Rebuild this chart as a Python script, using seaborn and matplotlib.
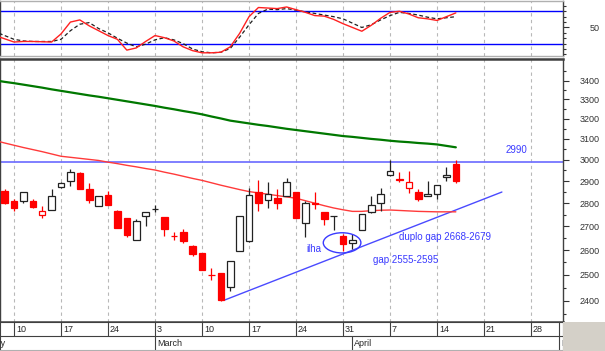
import numpy as np
import pandas as pd
import matplotlib
matplotlib.use('Agg')
import matplotlib.pyplot as plt
import seaborn as sns
from matplotlib.patches import Ellipse, Rectangle
from matplotlib.ticker import FixedLocator, FixedFormatter, NullFormatter

sns.set_style('white')
plt.rcParams['font.family'] = ['Liberation Sans', 'DejaVu Sans']

#trading day index, Feb 10 2003 = 0 (lines start one day earlier than candles)
line_days = np.arange(-2, 48)
candle_days = np.arange(-1, 48)

#daily candles Feb 7 .. Apr 16
opens = [2855, 2808, 2808, 2810, 2750, 2771, 2874, 2899, 2938, 2862,
         2786, 2836, 2764, 2734, 2643, 2743, 2773, 2738, 2658, 2675,
         2618, 2588, 2501, 2507, 2452, 2595, 2639, 2852, 2815, 2821,
         2830, 2848, 2714, 2799, 2763, 2742, 2660, 2628, 2684, 2763,
         2803, 2927, 2908, 2870, 2850, 2830, 2840, 2920, 2977]
highs = [2862, 2818, 2852, 2818, 2788, 2862, 2895, 2957, 2940, 2889,
         2832, 2855, 2771, 2734, 2731, 2763, 2791, 2738, 2675, 2686,
         2621, 2588, 2528, 2507, 2555, 2745, 2870, 2904, 2895, 2862,
         2915, 2848, 2810, 2850, 2763, 2743, 2668, 2665, 2753, 2832,
         2870, 2997, 2941, 2946, 2865, 2899, 2884, 2966, 2997]
lows = [2796, 2767, 2803, 2777, 2736, 2771, 2870, 2877, 2865, 2800,
        2786, 2793, 2692, 2654, 2643, 2700, 2760, 2658, 2643, 2628,
        2576, 2518, 2478, 2400, 2435, 2595, 2632, 2767, 2777, 2774,
        2830, 2734, 2654, 2774, 2705, 2683, 2597, 2605, 2682, 2757,
        2767, 2922, 2895, 2845, 2810, 2830, 2818, 2899, 2892]
closes = [2803, 2779, 2848, 2782, 2764, 2833, 2889, 2941, 2865, 2815,
          2832, 2793, 2692, 2663, 2721, 2760, 2775, 2686, 2657, 2639,
          2583, 2518, 2500, 2402, 2555, 2745, 2836, 2800, 2843, 2803,
          2895, 2734, 2800, 2798, 2731, 2743, 2626, 2643, 2753, 2793,
          2843, 2946, 2907, 2895, 2818, 2843, 2884, 2927, 2899]

#moving averages (green long, red short), Feb 6 .. Apr 16
ma_long = [3401, 3393, 3386, 3378, 3370, 3362, 3353, 3345, 3337, 3329,
           3321, 3314, 3306, 3298, 3290, 3282, 3274, 3266, 3257, 3249,
           3240, 3232, 3223, 3212, 3202, 3191, 3184, 3177, 3170, 3164,
           3157, 3150, 3144, 3138, 3132, 3126, 3120, 3114, 3110, 3105,
           3100, 3096, 3091, 3087, 3084, 3080, 3077, 3073, 3066, 3059]
ma_short = [3092, 3080, 3069, 3058, 3048, 3038, 3027, 3016, 3011, 3006,
            3001, 2996, 2988, 2981, 2973, 2966, 2958, 2951, 2941, 2932,
            2922, 2912, 2903, 2892, 2881, 2871, 2861, 2852, 2846, 2840,
            2834, 2828, 2822, 2811, 2800, 2789, 2779, 2771, 2764, 2764,
            2767, 2769, 2770, 2768, 2766, 2764, 2763, 2762, 2762, 2762]

#stochastic oscillator %K and %D
stoch_k = [35, 29, 23, 24, 24, 23.5, 23, 38, 60, 64,
           53, 44, 35, 28, 8, 12, 24, 35, 31, 25,
           14, 7, 3, 3, 4, 14, 39, 70, 87, 86,
           85, 88, 83, 78, 72, 71, 65, 57, 50, 43,
           54, 67, 78, 80, 75, 68, 66, 63, 70, 77]
stoch_d = [42, 35, 28, 25, 24, 24, 24, 28, 44, 56,
           59, 48, 40, 30, 21, 14, 19, 27, 31, 27,
           20, 10, 5, 3, 4, 11, 32, 55, 76, 84,
           83, 85, 82, 79, 76, 73, 70, 66, 58, 50,
           55, 64, 72, 78, 76, 73, 69, 66, 68, 70]

week_pos = [0, 5, 10, 15, 20, 25, 30, 35, 40, 45, 50, 55]
week_labels = ['10', '17', '24', '3', '10', '17', '24', '31', '7', '14', '21', '28']
month_pos = [-5, 15, 36, 58]
month_labels = ['February', 'March', 'April', 'May']

price_ticks = [2400, 2500, 2600, 2700, 2800, 2900, 3000, 3100, 3200, 3300, 3400]
price_minor = [2350, 2450, 2550, 2650, 2750, 2850, 2950, 3050, 3150, 3250, 3350, 3450]
stoch_minor = [0, 10, 20, 30, 40, 60, 70, 80, 90]

level_line = 2990
trend_x = [22.4, 51.9]
trend_y = [2402, 2850]

lines_df = pd.DataFrame({'day': line_days, 'ma_long': ma_long, 'ma_short': ma_short,
                         'k': stoch_k, 'd': stoch_d})

W, H = 605, 351
fig = plt.figure(figsize=(W / 100, H / 100), dpi=100)
fig.patch.set_facecolor('white')
ax_top = fig.add_axes([0, 1 - 55.5 / H, 563 / W, 55 / H])
ax = fig.add_axes([0, 1 - 322 / H, 563 / W, 263 / H])
ax_d = fig.add_axes([0, 1 - 350 / H, 563 / W, 28 / H])
fig.add_artist(Rectangle((563 / W, 0), 1 - 563 / W, 1 - 322 / H, transform=fig.transFigure,
                         facecolor='#d4d0c8', edgecolor='none'))

xlim = (-1.49, 58.4)
blue_txt = '#3a3aff'

#dashed weekly grid
for a in (ax_top, ax):
    for p in week_pos:
        a.axvline(p, color='#b8b8b8', lw=0.8, ls=(0, (3, 3)), zorder=1)

#---- stochastic panel
ax_top.axhline(80, color='#0000ff', lw=1, zorder=2)
ax_top.axhline(20, color='#0000ff', lw=1, zorder=2)
sns.lineplot(data=lines_df, x='day', y='d', ax=ax_top, color='#202020', lw=0.9,
             linestyle=(0, (3, 2)), zorder=3)
sns.lineplot(data=lines_df, x='day', y='k', ax=ax_top, color='#ff2020', lw=1, zorder=4)
ax_top.set_xlim(*xlim)
ax_top.set_ylim(-2, 100)
ax_top.set_xticks([])
ax_top.yaxis.tick_right()
ax_top.yaxis.set_major_locator(FixedLocator([50]))
ax_top.yaxis.set_major_formatter(FixedFormatter(['50']))
ax_top.yaxis.set_minor_locator(FixedLocator(stoch_minor))
ax_top.yaxis.set_minor_formatter(NullFormatter())

#---- price panel
ax.set_yscale('log')
sns.lineplot(data=lines_df, x='day', y='ma_long', ax=ax, color='#007800', lw=1.6, zorder=3)
sns.lineplot(data=lines_df, x='day', y='ma_short', ax=ax, color='#ff3a3a', lw=1, zorder=3)
ax.axhline(level_line, color='#6a6aff', lw=1.2, zorder=2)
ax.plot(trend_x, trend_y, color='#4a4aff', lw=1, zorder=2)

prev_close = [opens[0]] + closes[:-1]
for x, o, h, l, c, pc in zip(candle_days, opens, highs, lows, closes, prev_close):
    col = '#ff0000' if c < pc else '#222222'
    ax.vlines(x, l, h, color=col, lw=0.9, zorder=4)
    lo, hi = min(o, c), max(o, c)
    face = col if c < o else 'white'
    ax.bar(x, hi - lo, bottom=lo, width=0.7, color=face, edgecolor=col, lw=0.9, zorder=5)

ax.add_patch(Ellipse((34.9, 2630), width=4.0, height=84, fill=False,
                     edgecolor='#3a3aff', lw=1, zorder=6))
ax.text(53.4, 3046, '2990', color=blue_txt, fontsize=7, ha='center', va='center')
ax.text(31.9, 2604, 'ilha', color=blue_txt, fontsize=7, ha='center', va='center')
ax.text(40.96, 2654, 'duplo gap 2668-2679', color=blue_txt, fontsize=7, ha='left', va='center')
ax.text(38.2, 2558, 'gap 2555-2595', color=blue_txt, fontsize=7, ha='left', va='center')

ax.set_xlim(*xlim)
ax.set_ylim(2320, 3518)
ax.set_xticks([])
ax.yaxis.tick_right()
ax.yaxis.set_major_locator(FixedLocator(price_ticks))
ax.yaxis.set_major_formatter(FixedFormatter([str(t) for t in price_ticks]))
ax.yaxis.set_minor_locator(FixedLocator(price_minor))
ax.yaxis.set_minor_formatter(NullFormatter())

for a in (ax_top, ax):
    a.set_xlabel('')
    a.set_ylabel('')
    a.tick_params(axis='y', which='major', length=4.5, width=0.8, pad=22, labelsize=6.5,
                  colors='#333333', direction='out', right=True, left=False)
    a.tick_params(axis='y', which='minor', length=2.2, width=0.8, colors='#333333',
                  direction='out', right=True, left=False)
    plt.setp(a.yaxis.get_majorticklabels(), ha='right')
    for s in a.spines.values():
        s.set_color('#404040')
        s.set_linewidth(1)
ax_top.spines['top'].set_color('#b0b0b0')
ax_top.spines['bottom'].set_color('#b0b0b0')
ax.spines['top'].set_linewidth(1.8)
ax.spines['bottom'].set_linewidth(1.8)

#---- date rows
ax_d.set_xlim(*xlim)
ax_d.set_ylim(0, 2)
ax_d.set_xticks([])
ax_d.set_yticks([])
ax_d.axhline(1, color='#404040', lw=0.8)
for p, lbl in zip(week_pos, week_labels):
    ax_d.plot([p, p], [1, 2], color='#404040', lw=0.8)
    ax_d.text(p + 0.2, 1.48, lbl, fontsize=6.5, ha='left', va='center', clip_on=True)
for p, lbl in zip(month_pos, month_labels):
    ax_d.plot([p, p], [0, 1], color='#404040', lw=0.8)
    ax_d.text(p + 0.2, 0.45, lbl, fontsize=6.5, ha='left', va='center', clip_on=True)
ax_d.plot([month_pos[-1], month_pos[-1]], [1, 2], color='#404040', lw=0.8)
for s in ax_d.spines.values():
    s.set_color('#404040')
    s.set_linewidth(0.8)
ax_d.spines['bottom'].set_color('#b0b0b0')

fig.savefig('out.png', dpi=100)
